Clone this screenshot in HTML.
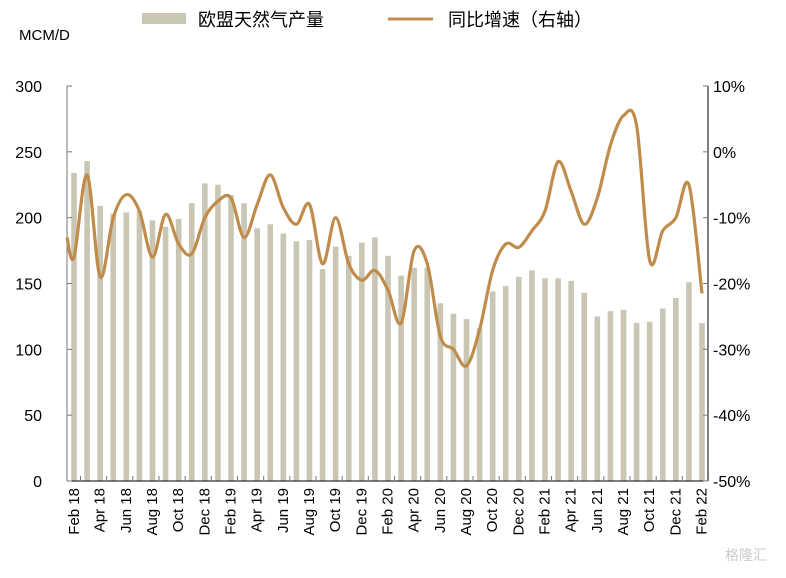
<!DOCTYPE html>
<html><head><meta charset="utf-8"><style>
body{margin:0;background:#fff;}
svg text{font-family:"Liberation Sans","Noto Sans CJK SC",sans-serif;}
</style></head><body>
<svg id="chart" width="786" height="573" xmlns="http://www.w3.org/2000/svg">
<rect x="142" y="13" width="44" height="11" fill="#c9c7b4"/>
<text x="198" y="26" font-size="18" fill="#000">欧盟天然气产量</text>
<line x1="388" y1="19" x2="433" y2="19" stroke="#c08c4c" stroke-width="3"/>
<text x="448" y="26" font-size="18" fill="#000">同比增速（右轴）</text>
<text x="19" y="40" font-size="15" fill="#000">MCM/D</text>
<g id="bars"></g><g id="axes"></g><path id="line" fill="none" stroke="#c08c4c" stroke-width="3.2"/>
<text x="725" y="560" font-size="14" fill="#ccc">格隆汇</text>
</svg>
<script>
const months=["Feb 18","Mar 18","Apr 18","May 18","Jun 18","Jul 18","Aug 18","Sep 18","Oct 18","Nov 18","Dec 18","Jan 19","Feb 19","Mar 19","Apr 19","May 19","Jun 19","Jul 19","Aug 19","Sep 19","Oct 19","Nov 19","Dec 19","Jan 20","Feb 20","Mar 20","Apr 20","May 20","Jun 20","Jul 20","Aug 20","Sep 20","Oct 20","Nov 20","Dec 20","Jan 21","Feb 21","Mar 21","Apr 21","May 21","Jun 21","Jul 21","Aug 21","Sep 21","Oct 21","Nov 21","Dec 21","Jan 22","Feb 22"];
const production=[234,243,209,203,204,205,198,193,199,211,226,225,217,211,192,195,188,182,183,161,178,171,181,185,171,156,162,162,135,127,123,116,144,148,155,160,154,154,152,143,125,129,130,120,121,131,139,151,120];
const growth=[-16,-3.5,-19,-10,-6.5,-9,-16,-9.5,-14,-15.5,-10,-7.5,-7,-13,-8,-3.5,-8.5,-11,-8,-17,-10,-17,-19.5,-18,-21,-26,-15,-17,-28,-30,-32.5,-27,-18,-14,-14.5,-12,-9,-1.5,-6,-11,-7,1,5.5,4,-16.5,-12,-10,-5,-21.5];
const leftTicks=[0,50,100,150,200,250,300];
const rightTicks=[-50,-40,-30,-20,-10,0,10];
const NS="http://www.w3.org/2000/svg";
const X0=67,X1=708,Y0=481,Y1=86;
const x=i=>74+i*(702-74)/(months.length-1);
const yL=v=>Y0-(v/300)*(Y0-Y1);
const yR=p=>Y0-((p+50)/60)*(Y0-Y1);
function mk(tag,attrs,parent){const e=document.createElementNS(NS,tag);for(const k in attrs)e.setAttribute(k,attrs[k]);parent.appendChild(e);return e;}
const bars=document.getElementById('bars'),axes=document.getElementById('axes');
production.forEach((v,i)=>{const r=mk('rect',{x:x(i)-2.8,y:yL(v),width:5.6,height:Y0-yL(v),fill:'#c9c7b4'},bars);

});
let l=mk('line',{x1:X0,y1:Y1,x2:X0,y2:Y0,stroke:'#777','stroke-width':1},axes);

l=mk('line',{x1:X1,y1:Y1,x2:X1,y2:Y0,stroke:'#000','stroke-width':1},axes);

l=mk('line',{x1:X0,y1:Y0,x2:X1,y2:Y0,stroke:'#000','stroke-width':1},axes);

leftTicks.forEach(v=>{mk('line',{x1:X0,y1:yL(v),x2:X0+5,y2:yL(v),stroke:'#777'},axes);
const t=mk('text',{x:42,y:yL(v)+6,'font-size':16,'text-anchor':'end',fill:'#000'},axes);t.textContent=v;
});
rightTicks.forEach(p=>{mk('line',{x1:X1-5,y1:yR(p),x2:X1,y2:yR(p),stroke:'#777'},axes);
const t=mk('text',{x:713,y:yR(p)+6,'font-size':16,fill:'#000'},axes);t.textContent=p+'%';
});
months.forEach((m,i)=>{if(i%2)return;const xx=x(i)+(i?-0.5:0);
mk('line',{x1:x(i)+6.5,y1:Y0,x2:x(i)+6.5,y2:Y0-5,stroke:'#777'},axes);
const t=mk('text',{x:0,y:0,'font-size':15,'text-anchor':'end',fill:'#000',transform:`translate(${xx+5},488) rotate(-90)`},axes);t.textContent=m;
});
const pts=growth.map((g,i)=>[x(i),yR(g)]);
pts.unshift([X0,yR(-13)]);
let d=`M${pts[0][0]},${pts[0][1]}`;
for(let i=0;i<pts.length-1;i++){const p0=pts[Math.max(0,i-1)],p1=pts[i],p2=pts[i+1],p3=pts[Math.min(pts.length-1,i+2)];
const c1=[p1[0]+(p2[0]-p0[0])/6,p1[1]+(p2[1]-p0[1])/6],c2=[p2[0]-(p3[0]-p1[0])/6,p2[1]-(p3[1]-p1[1])/6];
d+=` C${c1[0]},${c1[1]} ${c2[0]},${c2[1]} ${p2[0]},${p2[1]}`;}
document.getElementById('line').setAttribute('d',d);
</script>
</body></html>
